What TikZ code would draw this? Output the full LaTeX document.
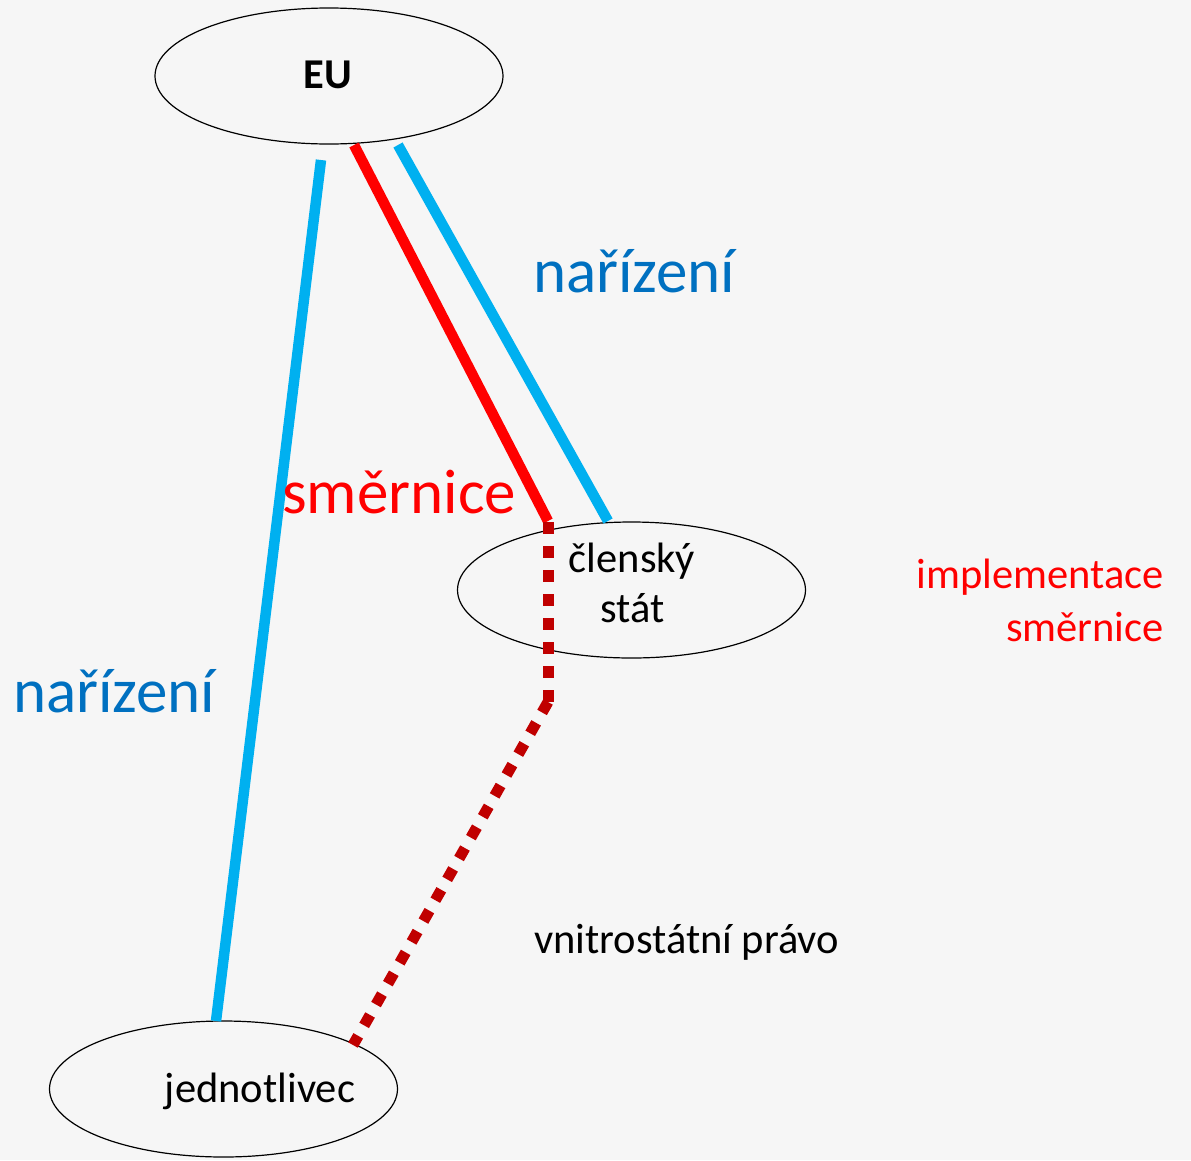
\documentclass[tikz,border=0pt]{standalone}
\usepackage{fontspec}
\setmainfont{Carlito}
\usetikzlibrary{shapes.geometric}
\definecolor{bg}{HTML}{F6F6F6}
\definecolor{lblue}{HTML}{00B0F0}
\definecolor{tblue}{HTML}{0070C0}
\definecolor{dred}{HTML}{C00000}
\definecolor{bred}{HTML}{FF0000}
\tikzset{
  oval/.style={ellipse, draw=black, line width=1.2pt, inner sep=0pt, minimum width=348pt, minimum height=136pt},
  txt/.style={inner sep=0pt, font=\fontsize{42.5}{51}\selectfont},
  bigtxt/.style={inner sep=0pt, font=\fontsize{63}{75}\selectfont},
  blueline/.style={draw=lblue, line width=10.5pt},
  redline/.style={draw=bred, line width=10.5pt},
  dotline/.style={draw=dred, line width=11pt, dash pattern=on 12pt off 12pt}
}
\begin{document}
\begin{tikzpicture}[x=1pt,y=-1pt]
\fill[bg] (0,0) rectangle (1191,1160);
\useasboundingbox (0,0) rectangle (1191,1160);
% ellipses
\node[oval] (eu) at (329,76) {};
\node[oval] (cs) at (631.5,590) {};
\node[oval] (jd) at (223.5,1089) {};
% node texts
\node[txt, anchor=base, font=\fontsize{42.5}{51}\selectfont\bfseries] (eut) at (327.5,88) {EU};
\node[txt, anchor=base] (cst1) at (632,572) {členský};
\node[txt, anchor=base] (cst2) at (632.5,622) {stát};
\node[txt, anchor=base] (jdt) at (260,1102) {jednotlivec};
% connector ends
\coordinate (b1s) at (321,160);
\coordinate (b1e) at (216,1021);
\coordinate (rs) at (354,145);
\coordinate (re) at (548,521);
\coordinate (b2s) at (398,145);
\coordinate (b2e) at (608,521);
\coordinate (ds) at (548,522);
\coordinate (dm) at (548,702);
\coordinate (de) at (353,1045);
% connectors
\draw[blueline] (b1s) -- (b1e);
\draw[redline] (rs) -- (re);
\draw[blueline] (b2s) -- (b2e);
\draw[dotline] (ds) -- (dm);
\draw[dotline] (dm) -- (de);
% labels
\node[bigtxt, text=tblue, anchor=base west] (nar1) at (533,292) {nařízení};
\node[bigtxt, text=tblue, anchor=base west] (nar2) at (13,712) {nařízení};
\node[bigtxt, text=bred, anchor=base west] (smer) at (282,513) {směrnice};
\node[txt, text=bred, anchor=base east] (imp1) at (1164,588) {implementace};
\node[txt, text=bred, anchor=base east] (imp2) at (1164,641) {směrnice};
\node[txt, anchor=base west] (vnp) at (534,953) {vnitrostátní právo};
\end{tikzpicture}
\end{document}
